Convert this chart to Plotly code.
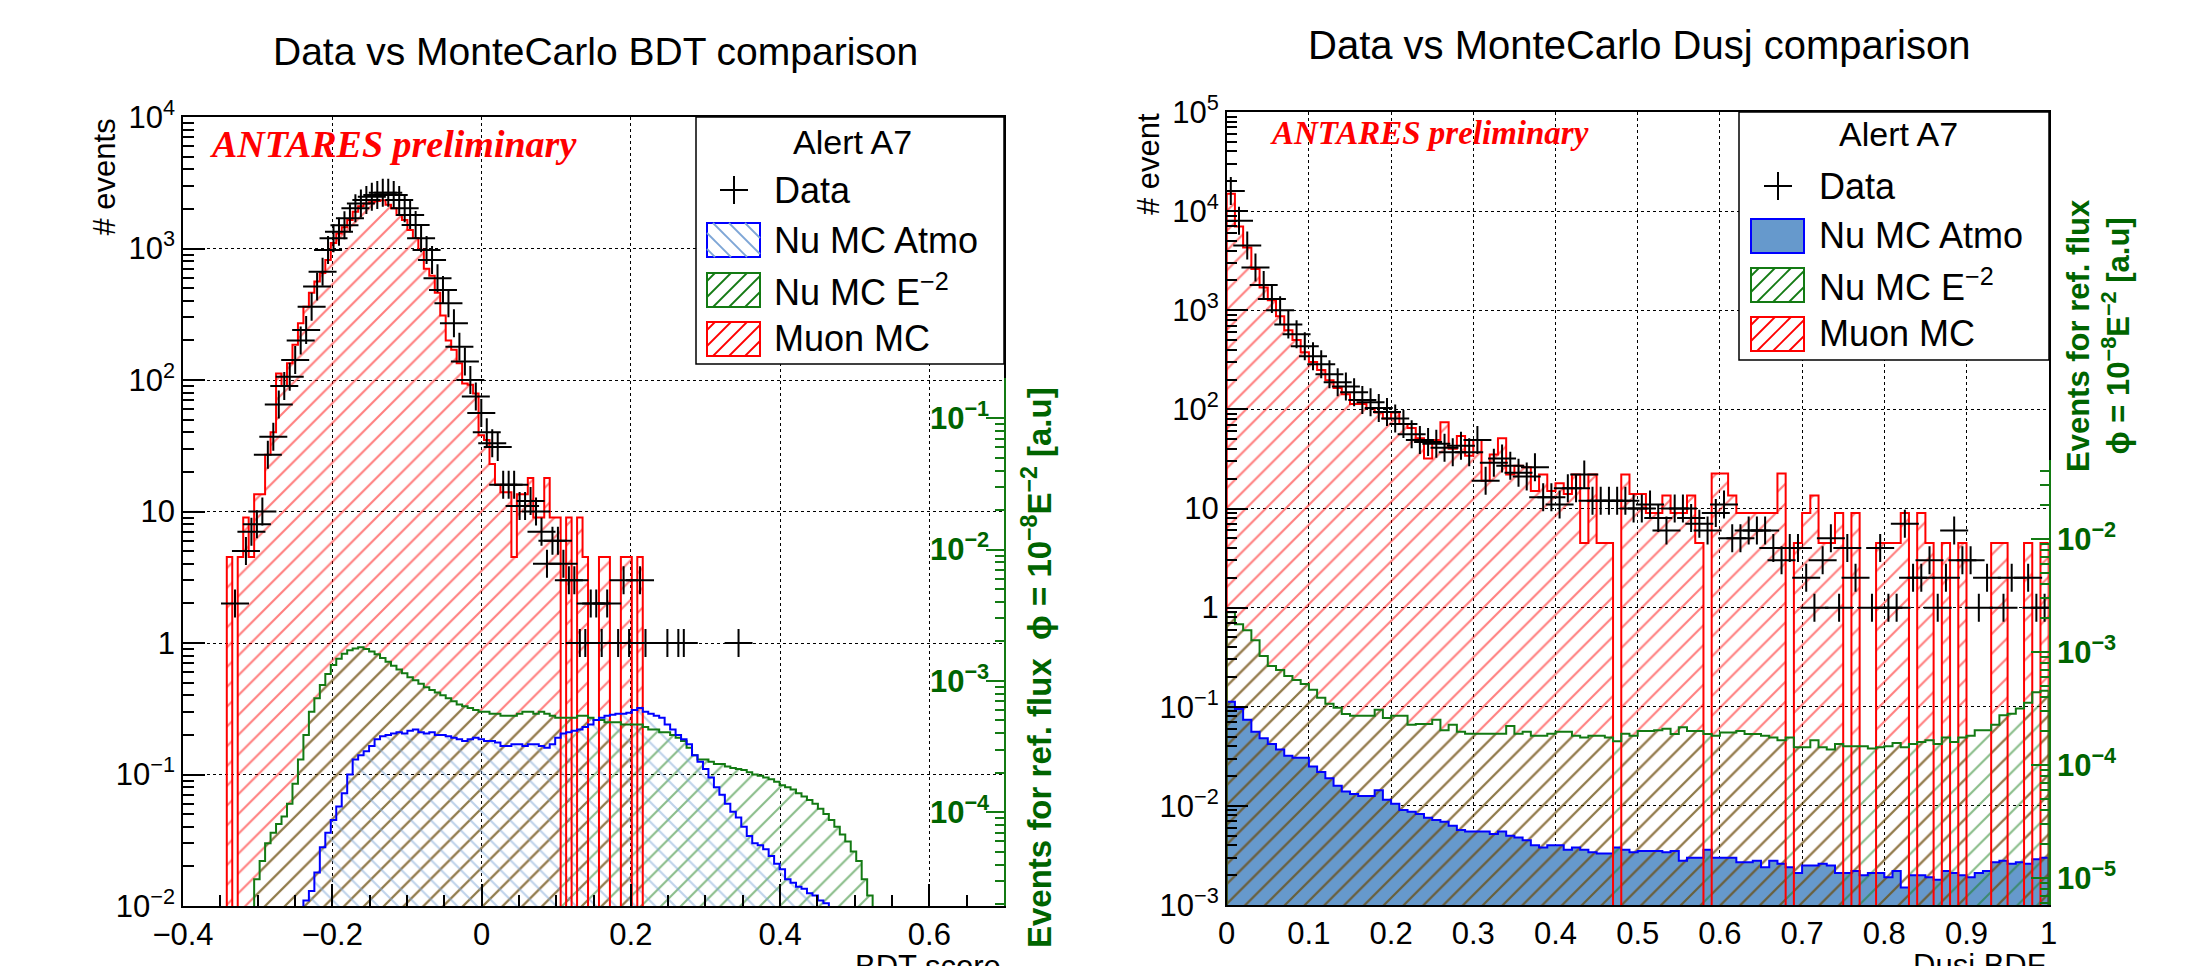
import plotly.graph_objects as go

W, H = 2202, 966

# ---------------- BDT score panel : 150 bins on [-0.4, 0.7] ----------------
bdt_xrange = [-0.4, 0.7]
bdt_nbins = 150

bdt_muon_first = 8
bdt_muon = [
    4.5, 0, 4.5, 9, 4.5, 13.5, 13.5, 27, 40, 112,
    90, 134, 185, 270, 361, 460, 560, 650, 817, 1100,
    1300, 1450, 1650, 1900, 2100, 2200, 2250, 2300, 2330, 2150,
    2020, 1800, 1650, 1380, 1200, 980, 700, 620, 460, 310,
    200, 170, 134, 94, 92, 79, 38, 35, 23, 16,
    14, 14, 4.5, 13.5, 13.5, 18, 9, 9, 18, 9,
    9, 0, 9, 0, 9, 4.5, 0, 0, 4.5, 4.5,
    0, 0, 4.5, 4.5, 0, 4.5,
]

bdt_data_first = 9
bdt_data = [
    2, 0, 5, 7, 8, 10, 27, 37, 65, 90,
    106, 142, 200, 240, 361, 515, 667, 973, 1195, 1342,
    1500, 1695, 2020, 2200, 2337, 2478, 2553, 2650, 2650, 2550,
    2337, 2020, 1798, 1509, 1195, 975, 817, 593, 483, 383,
    270, 179, 138, 100, 75, 56, 40, 33, 31, 16,
    16, 16, 11, 11, 12, 10, 7, 4, 6, 6,
    4, 3, 3, 1, 1, 2, 2, 1, 2, 0,
    1, 3, 1, 0, 3, 1, 0, 0, 0, 1,
    0, 1, 1, 0, 0, 0, 0, 0, 0, 0,
    0, 0, 1,
]

bdt_nue2_first = 13
bdt_nue2 = [
    0.016, 0.022, 0.03, 0.036, 0.042, 0.048, 0.06, 0.085, 0.13, 0.2,
    0.3, 0.38, 0.48, 0.58, 0.68, 0.76, 0.83, 0.88, 0.91, 0.93,
    0.9, 0.86, 0.82, 0.77, 0.72, 0.67, 0.63, 0.59, 0.55, 0.52,
    0.49, 0.46, 0.44, 0.42, 0.40, 0.38, 0.36, 0.34, 0.33, 0.32,
    0.31, 0.30, 0.30, 0.29, 0.29, 0.28, 0.28, 0.28, 0.29, 0.30,
    0.30, 0.29, 0.30, 0.29, 0.28, 0.27, 0.27, 0.27, 0.27, 0.28,
    0.28, 0.27, 0.26, 0.26, 0.25, 0.25, 0.25, 0.24, 0.24, 0.24,
    0.24, 0.23, 0.22, 0.22, 0.21, 0.21, 0.20, 0.19, 0.18, 0.16,
    0.14, 0.13, 0.13, 0.125, 0.12, 0.12, 0.115, 0.112, 0.11, 0.108,
    0.104, 0.10, 0.098, 0.095, 0.092, 0.088, 0.083, 0.08, 0.077, 0.072,
    0.068, 0.064, 0.06, 0.055, 0.05, 0.045, 0.04, 0.035, 0.031, 0.026,
    0.022, 0.016, 0.012,
]

bdt_atmo_first = 22
bdt_atmo = [
    0.011, 0.013, 0.018, 0.028, 0.036, 0.045, 0.057, 0.072, 0.1, 0.13,
    0.14, 0.15, 0.165, 0.185, 0.195, 0.2, 0.205, 0.21, 0.205, 0.215,
    0.22, 0.21, 0.205, 0.21, 0.2, 0.2, 0.195, 0.19, 0.185, 0.18,
    0.185, 0.19, 0.185, 0.18, 0.18, 0.175, 0.165, 0.165, 0.17, 0.17,
    0.165, 0.17, 0.17, 0.165, 0.16, 0.17, 0.19, 0.205, 0.21, 0.215,
    0.22, 0.23, 0.24, 0.26, 0.27, 0.28, 0.285, 0.29, 0.29, 0.295,
    0.31, 0.32, 0.3, 0.29, 0.28, 0.27, 0.24, 0.22, 0.2, 0.185,
    0.17, 0.14, 0.125, 0.11, 0.095, 0.08, 0.07, 0.06, 0.052, 0.047,
    0.04, 0.034, 0.03, 0.029, 0.027, 0.024, 0.021, 0.019, 0.016, 0.015,
    0.014, 0.0135, 0.0125, 0.012, 0.011, 0.0105,
]

# ---------------- Dusj BDF panel : 100 bins on [0, 1] ----------------
dusj_xrange = [0.0, 1.0]
dusj_nbins = 100

dusj_muon = [
    15000, 7000, 4300, 2600, 1700, 1260, 870, 630, 500, 377,
    300, 250, 197, 164, 142, 113, 113, 103, 93, 81,
    93, 71, 65, 51, 32, 49, 74, 40, 54, 34,
    49, 19, 35, 51, 22, 27, 26, 15, 22, 15,
    18, 14, 22, 4.5, 22, 4.5, 4.5, 0, 22, 14,
    14, 9, 9, 13.5, 9, 9, 13.5, 4.5, 0, 22.5,
    22.5, 13.5, 9, 9, 9, 9, 9, 22.5, 0, 4.5,
    9, 13.5, 4.5, 4.5, 9, 0, 9, 0, 0, 4.5,
    4.5, 4.5, 9, 0, 9, 4.5, 0, 4.5, 0, 4.5,
    0, 0, 0, 4.5, 4.5, 0, 0, 4.5, 0, 4.5,
]

dusj_data = [
    16000, 8000, 4500, 2700, 1800, 1300, 1000, 720, 573, 433,
    344, 286, 226, 188, 170, 149, 124, 118, 103, 94,
    81, 71, 56, 49, 47, 45, 41, 37, 43, 37,
    49, 19, 29, 32, 27, 23, 21, 26, 13, 13,
    11, 16, 16, 22, 12, 12, 12, 12, 12, 10,
    10, 11, 8, 6, 10, 10, 8, 7, 6, 9,
    11, 5, 5, 6, 6, 6, 4, 3, 4, 4,
    2, 1, 3, 5, 1, 4, 2, 0, 1, 4,
    1, 1, 7, 2, 2, 3, 1, 2, 6, 3,
    3, 1, 2, 0, 1, 2, 0, 2, 1, 1,
]

dusj_nue2 = [
    0.9, 0.68, 0.59, 0.47, 0.325, 0.258, 0.235, 0.204, 0.186, 0.17,
    0.148, 0.123, 0.107, 0.0975, 0.0845, 0.081, 0.081, 0.081, 0.093, 0.077,
    0.081, 0.081, 0.066, 0.067, 0.067, 0.074, 0.058, 0.066, 0.056, 0.0535,
    0.0535, 0.0535, 0.0535, 0.0535, 0.064, 0.0535, 0.056, 0.051, 0.051, 0.0535,
    0.056, 0.056, 0.051, 0.049, 0.051, 0.051, 0.049, 0.045, 0.0535, 0.051,
    0.057, 0.057, 0.058, 0.06, 0.053, 0.062, 0.057, 0.057, 0.053, 0.051,
    0.055, 0.055, 0.057, 0.053, 0.053, 0.051, 0.049, 0.046, 0.049, 0.039,
    0.039, 0.046, 0.039, 0.037, 0.042, 0.04, 0.04, 0.04, 0.038, 0.039,
    0.04, 0.043, 0.039, 0.042, 0.044, 0.046, 0.042, 0.049, 0.044, 0.049,
    0.051, 0.058, 0.058, 0.066, 0.082, 0.085, 0.096, 0.11, 0.14, 0.145,
]

dusj_atmo = [
    0.112, 0.095, 0.074, 0.056, 0.048, 0.042, 0.037, 0.032, 0.0305, 0.0305,
    0.025, 0.022, 0.019, 0.016, 0.014, 0.0132, 0.0126, 0.0126, 0.0144, 0.0115,
    0.0105, 0.0091, 0.0087, 0.0083, 0.0076, 0.0072, 0.0069, 0.0063, 0.0057, 0.0055,
    0.0055, 0.0055, 0.0052, 0.0055, 0.005, 0.0048, 0.0045, 0.004, 0.0038, 0.004,
    0.004, 0.0036, 0.0038, 0.0036, 0.0034, 0.0033, 0.0033, 0.0038, 0.0036, 0.0034,
    0.0035, 0.0035, 0.0035, 0.0034, 0.0035, 0.0028, 0.003, 0.003, 0.0036, 0.003,
    0.003, 0.003, 0.0027, 0.0027, 0.0028, 0.0024, 0.0028, 0.0026, 0.0024, 0.0021,
    0.0025, 0.0025, 0.0026, 0.0025, 0.0021, 0.0021, 0.0022, 0.002, 0.0021, 0.0021,
    0.0019, 0.0022, 0.0015, 0.002, 0.002, 0.0019, 0.0018, 0.0022, 0.0021, 0.002,
    0.0019, 0.0021, 0.0022, 0.0027, 0.0028, 0.0026, 0.0027, 0.0026, 0.0029, 0.003,
]

# ---------------- tick labels ----------------
bdt_y_tickvals = [1e-2, 1e-1, 1, 10, 1e2, 1e3, 1e4]
bdt_y_ticktext = ["10<sup>−2</sup>", "10<sup>−1</sup>", "1", "10",
                  "10<sup>2</sup>", "10<sup>3</sup>", "10<sup>4</sup>"]
bdt_flux_tickvals = [1e-4, 1e-3, 1e-2, 1e-1]
bdt_flux_ticktext = ["<b>10<sup>−4</sup></b>", "<b>10<sup>−3</sup></b>",
                     "<b>10<sup>−2</sup></b>", "<b>10<sup>−1</sup></b>"]
dusj_y_tickvals = [1e-3, 1e-2, 1e-1, 1, 10, 1e2, 1e3, 1e4, 1e5]
dusj_y_ticktext = ["10<sup>−3</sup>", "10<sup>−2</sup>", "10<sup>−1</sup>", "1", "10",
                   "10<sup>2</sup>", "10<sup>3</sup>", "10<sup>4</sup>", "10<sup>5</sup>"]
dusj_flux_tickvals = [1e-5, 1e-4, 1e-3, 1e-2]
dusj_flux_ticktext = ["<b>10<sup>−5</sup></b>", "<b>10<sup>−4</sup></b>",
                      "<b>10<sup>−3</sup></b>", "<b>10<sup>−2</sup></b>"]

# ---------------- styles / geometry ----------------
FONT = "Liberation Sans, Arial, Helvetica, sans-serif"
SERIF = "Liberation Serif, Times New Roman, serif"
RED = "#ff0000"
GREEN = "#137a13"
GREEN_TXT = "#006400"
BLUE = "#0000ff"
ATMO_FILL = "#6699cc"
ATMO_HATCH = "#7ea6d6"
TINY = 1e-9

LF = (183, 117, 1004, 906)      # left frame  (x0, y0, x1, y1) in px
RF = (1226.7, 112, 2048.7, 905)  # right frame
BDT_FLUX_TOP = 378
DUSJ_FLUX_TOP = 460
BDT_FLUX_RANGE = [-4.714, -0.693]
DUSJ_FLUX_RANGE = [-5.236, -1.30]


def px(x):
    return x / W


def py(y):
    return 1 - y / H


fig = go.Figure()


def bin_width(xr, n):
    return (xr[1] - xr[0]) / n


def bar_trace(values, first, xr, n, xa, ya, pattern=None, fill=None):
    w = bin_width(xr, n)
    centers = [xr[0] + (first + i + 0.5) * w for i in range(len(values))]
    ys = [v if v > 0 else None for v in values]
    marker = dict(line=dict(width=0))
    if pattern is not None:
        marker["color"] = "rgba(0,0,0,0)"
        marker["pattern"] = pattern
    else:
        marker["color"] = fill
    fig.add_trace(go.Bar(x=centers, y=ys, width=w, marker=marker, xaxis=xa, yaxis=ya,
                         showlegend=False, hoverinfo="skip"))


def step_trace(values, first, xr, n, xa, ya, color):
    w = bin_width(xr, n)
    edges = [xr[0] + (first + i) * w for i in range(len(values) + 1)]
    ys = [v if v > 0 else TINY for v in values]
    xs = [edges[0]] + edges[:-1] + [edges[-1], edges[-1]]
    yy = [TINY] + ys + [ys[-1], TINY]
    fig.add_trace(go.Scatter(x=xs, y=yy, mode="lines", line=dict(color=color, width=2, shape="hv"),
                             xaxis=xa, yaxis=ya, showlegend=False, hoverinfo="skip"))


def data_trace(values, first, xr, n, xa, ya):
    w = bin_width(xr, n)
    xs, ys = [], []
    for i, v in enumerate(values):
        if v > 0:
            xs.append(xr[0] + (first + i + 0.5) * w)
            ys.append(v)
    fig.add_trace(go.Scatter(x=xs, y=ys, mode="markers",
                             marker=dict(symbol="cross-thin", size=20, color="black",
                                         line=dict(color="black", width=2)),
                             xaxis=xa, yaxis=ya, showlegend=False, hoverinfo="skip"))


def hatch(shape, color):
    return dict(shape=shape, fgcolor=color, bgcolor="rgba(0,0,0,0)", size=14,
                solidity=0.15, fillmode="overlay")


# ----- left panel (BDT) -----
bar_trace(bdt_muon, bdt_muon_first, bdt_xrange, bdt_nbins, "x", "y", pattern=hatch("/", RED))
bar_trace(bdt_nue2, bdt_nue2_first, bdt_xrange, bdt_nbins, "x", "y", pattern=hatch("/", GREEN))
bar_trace(bdt_atmo, bdt_atmo_first, bdt_xrange, bdt_nbins, "x", "y", pattern=hatch("\\", ATMO_HATCH))
step_trace(bdt_muon, bdt_muon_first, bdt_xrange, bdt_nbins, "x", "y", RED)
step_trace(bdt_nue2, bdt_nue2_first, bdt_xrange, bdt_nbins, "x", "y", GREEN)
step_trace(bdt_atmo, bdt_atmo_first, bdt_xrange, bdt_nbins, "x", "y", BLUE)
data_trace(bdt_data, bdt_data_first, bdt_xrange, bdt_nbins, "x", "y")

# ----- right panel (Dusj) -----
bar_trace(dusj_atmo, 0, dusj_xrange, dusj_nbins, "x2", "y2", fill=ATMO_FILL)
bar_trace(dusj_muon, 0, dusj_xrange, dusj_nbins, "x2", "y2", pattern=hatch("/", RED))
bar_trace(dusj_nue2, 0, dusj_xrange, dusj_nbins, "x2", "y2", pattern=hatch("/", GREEN))
step_trace(dusj_atmo, 0, dusj_xrange, dusj_nbins, "x2", "y2", BLUE)
step_trace(dusj_muon, 0, dusj_xrange, dusj_nbins, "x2", "y2", RED)
step_trace(dusj_nue2, 0, dusj_xrange, dusj_nbins, "x2", "y2", GREEN)
data_trace(dusj_data, 0, dusj_xrange, dusj_nbins, "x2", "y2")

# invisible anchors so the flux axes are drawn
fig.add_trace(go.Scatter(x=[0.6], y=[1e-3], mode="markers", marker=dict(opacity=0),
                         xaxis="x3", yaxis="y3", showlegend=False, hoverinfo="skip"))
fig.add_trace(go.Scatter(x=[0.5], y=[1e-3], mode="markers", marker=dict(opacity=0),
                         xaxis="x4", yaxis="y4", showlegend=False, hoverinfo="skip"))


def log_minor(lo, hi):
    return [m * 10.0 ** d for d in range(lo, hi + 1) for m in range(2, 10)]


TICKFONT = dict(family=FONT, size=31, color="black")


def main_x(frame, rng, anchor, dtick, minor_dtick, show_ticks):
    t = "inside" if show_ticks else ""
    return dict(domain=[px(frame[0]), px(frame[2])], range=rng, anchor=anchor, automargin=False,
                showline=True, linecolor="black", linewidth=1.5, mirror=True,
                ticks=t, ticklen=22, tickwidth=1.5, tickcolor="black",
                tick0=0, dtick=dtick, showgrid=True, gridcolor="black", gridwidth=1,
                griddash="dot", zeroline=False, tickfont=TICKFONT,
                minor=dict(dtick=minor_dtick, ticks=t, ticklen=11, tickwidth=1.5,
                           tickcolor="black", showgrid=False))


def main_y(frame, lo, hi, anchor, vals, text):
    return dict(domain=[py(frame[3]), py(frame[1])], type="log", range=[lo, hi], anchor=anchor,
                automargin=False,
                showline=True, linecolor="black", linewidth=1.5, mirror=True,
                ticks="inside", ticklen=22, tickwidth=1.5, tickcolor="black",
                tickmode="array", tickvals=vals, ticktext=text,
                showgrid=True, gridcolor="black", gridwidth=1, griddash="dot",
                zeroline=False, tickfont=TICKFONT,
                minor=dict(tickmode="array", tickvals=log_minor(lo, hi), ticks="inside",
                           ticklen=11, tickwidth=1.5, tickcolor="black", showgrid=False))


def flux_y(frame, top, rng, anchor, vals, text, labelpos):
    return dict(domain=[py(frame[3]), py(top)], type="log", range=rng, anchor=anchor,
                automargin=False,
                side="right", showline=True, linecolor=GREEN, linewidth=2,
                ticks="inside", ticklen=18, tickwidth=1.5, tickcolor=GREEN,
                tickmode="array", tickvals=vals, ticktext=text, ticklabelposition=labelpos,
                showgrid=False, zeroline=False,
                tickfont=dict(family=FONT, size=31, color=GREEN_TXT),
                minor=dict(tickmode="array", tickvals=log_minor(-6, -1), ticks="inside",
                           ticklen=9, tickwidth=1.5, tickcolor=GREEN, showgrid=False))


def hidden_x(frame, rng, anchor):
    return dict(domain=[px(frame[0]), px(frame[2])], range=rng, anchor=anchor,
                automargin=False, visible=False, showgrid=False, zeroline=False)


fig.update_layout(
    template="none",
    width=W, height=H, autosize=False,
    margin=dict(l=0, r=0, t=0, b=0, pad=0, autoexpand=False),
    paper_bgcolor="white", plot_bgcolor="rgba(0,0,0,0)",
    barmode="overlay", bargap=0, showlegend=False,
    font=dict(family=FONT, color="black"),
    xaxis=main_x(LF, bdt_xrange, "y", 0.2, 0.05, True),
    yaxis=main_y(LF, -2, 4, "x", bdt_y_tickvals, bdt_y_ticktext),
    xaxis2=main_x(RF, dusj_xrange, "y2", 0.1, 0.02, False),
    yaxis2=main_y(RF, -3, 5, "x2", dusj_y_tickvals, dusj_y_ticktext),
    xaxis3=hidden_x(LF, bdt_xrange, "y3"),
    yaxis3=flux_y(LF, BDT_FLUX_TOP, BDT_FLUX_RANGE, "x3", bdt_flux_tickvals,
                  bdt_flux_ticktext, "inside"),
    xaxis4=hidden_x(RF, dusj_xrange, "y4"),
    yaxis4=flux_y(RF, DUSJ_FLUX_TOP, DUSJ_FLUX_RANGE, "x4", dusj_flux_tickvals,
                  dusj_flux_ticktext, "outside"),
)

# ---------------- texts ----------------
annotations = []


def text(x, y, s, size, color="black", xanchor="center", yanchor="middle", angle=0,
         family=FONT, align="center"):
    annotations.append(dict(x=px(x), y=py(y), xref="paper", yref="paper", text=s,
                            showarrow=False, xanchor=xanchor, yanchor=yanchor,
                            textangle=angle, align=align,
                            font=dict(family=family, size=size, color=color)))


text(595, 52, "Data vs MonteCarlo BDT comparison", 39)
text(1639, 45, "Data vs MonteCarlo Dusj comparison", 40)
text(208, 144, "<b><i>ANTARES preliminary</i></b>", 38, color=RED, xanchor="left", family=SERIF)
text(1268, 133, "<b><i>ANTARES preliminary</i></b>", 33, color=RED, xanchor="left", family=SERIF)
text(104, 116, "# events", 31, yanchor="top", angle=-90)
text(1149, 111, "# event", 31, yanchor="top", angle=-90)
text(1003, 966, "BDT score", 31, xanchor="right", yanchor="middle")
text(2048, 965, "Dusj BDF", 31, xanchor="right", yanchor="middle")
text(1037, 668, "<b>Events for ref. flux  ϕ = 10<sup>−8</sup>E<sup>−2</sup> [a.u]</b>", 33,
     color=GREEN_TXT, angle=-90)
text(2098, 336, "<b>Events for ref. flux</b><br><b>ϕ = 10<sup>−8</sup>E<sup>−2</sup> [a.u]</b>", 31,
     color=GREEN_TXT, angle=-90)

# ---------------- legends (drawn by hand) ----------------
shapes = []


def rect(x0, y0, x1, y1, line, fill="white", width=1.5):
    shapes.append(dict(type="rect", xref="paper", yref="paper", x0=px(x0), y0=py(y1),
                       x1=px(x1), y1=py(y0), line=dict(color=line, width=width),
                       fillcolor=fill, layer="above"))


def seg(xa, ya, xb, yb, color, width):
    shapes.append(dict(type="line", xref="paper", yref="paper", x0=px(xa), y0=py(ya),
                       x1=px(xb), y1=py(yb), line=dict(color=color, width=width), layer="above"))


def hatch_box(x0, y0, x1, y1, direction, color, step=16):
    if direction == "/":
        c = x0 + y0 + step / 2
        while c < x1 + y1:
            xa, xb = max(x0, c - y1), min(x1, c - y0)
            if xb - xa > 0.5:
                seg(xa, c - xa, xb, c - xb, color, 1.8)
            c += step
    else:
        c = x0 - y1 + step / 2
        while c < x1 - y0:
            xa, xb = max(x0, c + y0), min(x1, c + y1)
            if xb - xa > 0.5:
                seg(xa, xa - c, xb, xb - c, color, 1.8)
            c += step


def legend(box, title_xy, cross_xy, text_x, rows_y, atmo_solid):
    bx0, by0, bx1, by1 = box
    rect(bx0, by0, bx1, by1, "black")
    text(title_xy[0], title_xy[1], "Alert A7", 34)
    cx, cy = cross_xy
    seg(cx - 14, cy, cx + 14, cy, "black", 2)
    seg(cx, cy - 14, cx, cy + 14, "black", 2)
    labels = ["Data", "Nu MC Atmo", "Nu MC E<sup>−2</sup>", "Muon MC"]
    for lab, yy in zip(labels, rows_y):
        text(text_x, yy, lab, 36, xanchor="left")
    sx0, sx1 = cx - 27, cx + 26
    y = rows_y[1]
    if atmo_solid:
        rect(sx0, y - 17, sx1, y + 17, BLUE, fill=ATMO_FILL, width=2)
    else:
        rect(sx0, y - 17, sx1, y + 17, BLUE, fill="white", width=2)
        hatch_box(sx0, y - 17, sx1, y + 17, "\\", ATMO_HATCH)
    y = rows_y[2]
    rect(sx0, y - 17, sx1, y + 17, GREEN, fill="white", width=2)
    hatch_box(sx0, y - 17, sx1, y + 17, "/", GREEN)
    y = rows_y[3]
    rect(sx0, y - 17, sx1, y + 17, RED, fill="white", width=2)
    hatch_box(sx0, y - 17, sx1, y + 17, "/", RED)


legend((696, 117, 1004, 364), (852, 142), (734, 190), 772, [190, 240, 290, 339], False)
legend((1739, 112, 2049, 360), (1898, 134), (1778, 186), 1817, [186, 236, 285, 334], True)

fig.update_layout(annotations=annotations, shapes=shapes)

fig.write_html("out.html")
